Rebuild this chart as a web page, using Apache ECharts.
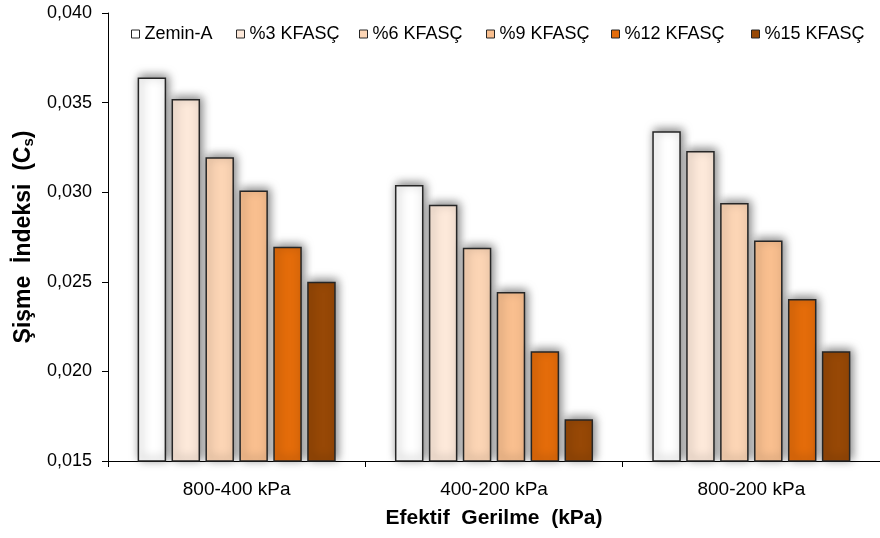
<!DOCTYPE html>
<html><head><meta charset="utf-8">
<script src="https://cdn.jsdelivr.net/npm/echarts@6/dist/echarts.min.js"></script>
<style>html,body{margin:0;padding:0;background:#fff}#c{width:880px;height:538px}</style>
</head><body><div id="c"></div>
<script>
var categories = ['800-400 kPa', '400-200 kPa', '800-200 kPa'];
var seriesNames = ['Zemin-A', '%3 KFASÇ', '%6 KFASÇ', '%9 KFASÇ', '%12 KFASÇ', '%15 KFASÇ'];
var zeminA = [0.0364, 0.0304, 0.0334];
var kfasc3 = [0.0352, 0.0293, 0.0323];
var kfasc6 = [0.03195, 0.0269, 0.0294];
var kfasc9 = [0.0301, 0.02443, 0.0273];
var kfasc12 = [0.02696, 0.02112, 0.02404];
var kfasc15 = [0.0250, 0.01733, 0.02112];
var seriesData = [zeminA, kfasc3, kfasc6, kfasc9, kfasc12, kfasc15];
var colors = ['#FFFFFF', '#FDE9DA', '#FCD5B5', '#F9BF8F', '#E46C0A', '#974806'];
var legendLefts = [131, 236, 359, 486, 611, 751];

var font = 'Liberation Sans, Arial, sans-serif';
var chart = echarts.init(document.getElementById('c'), null, {renderer: 'canvas'});
var series = seriesNames.map(function (n, i) {
  return {
    name: n, type: 'bar', data: seriesData[i],
    barWidth: 28.5, barGap: '19%',
    itemStyle: {color: colors[i], borderColor: '#262626', borderWidth: 1.5,
      shadowBlur: 10, shadowColor: 'rgba(0,0,0,0.5)', shadowOffsetX: 2, shadowOffsetY: -2},
    emphasis: {disabled: true}
  };
});
var legends = seriesNames.map(function (n, i) {
  return {
    top: 25, left: legendLefts[i], itemWidth: 8, itemHeight: 8, itemGap: 0, padding: 0,
    icon: 'rect', selectedMode: false,
    textStyle: {fontSize: 18, color: '#000', fontFamily: font},
    itemStyle: {borderColor: '#262626', borderWidth: 1, shadowBlur: 0, shadowOffsetX: 0, shadowOffsetY: 0},
    data: [n]
  };
});
chart.setOption({
  animation: false,
  textStyle: {fontFamily: font},
  grid: {left: 108, top: 13, width: 779, height: 448, containLabel: false},
  legend: legends,
  xAxis: {
    type: 'category', data: categories,
    axisLine: {lineStyle: {color: '#000', width: 1}},
    axisTick: {show: true, length: 6, lineStyle: {color: '#000'}},
    axisLabel: {fontSize: 19, color: '#000', margin: 19, fontFamily: font},
    name: 'Efektif  Gerilme  (kPa)', nameLocation: 'middle', nameGap: 47,
    nameTextStyle: {fontSize: 21, fontWeight: 'bold', color: '#000', fontFamily: font}
  },
  yAxis: {
    type: 'value', min: 0.015, max: 0.040, interval: 0.005,
    splitLine: {show: false},
    axisLine: {show: true, lineStyle: {color: '#000', width: 1}},
    axisTick: {show: true, length: 6, lineStyle: {color: '#000'}},
    axisLabel: {fontSize: 18, color: '#000', margin: 16, fontFamily: font,
      formatter: function (v) { return v.toFixed(3).replace('.', ','); }},
    name: 'Şişme  İndeksi  (C{sub|s})', nameLocation: 'middle', nameGap: 72,
    nameTextStyle: {fontSize: 23, fontWeight: 'bold', color: '#000', fontFamily: font,
      rich: {sub: {fontSize: 15, fontWeight: 'bold', color: '#000', fontFamily: font, verticalAlign: 'bottom', padding: [10, 0, 0, 0]}}}
  },
  series: series
});
</script></body></html>
